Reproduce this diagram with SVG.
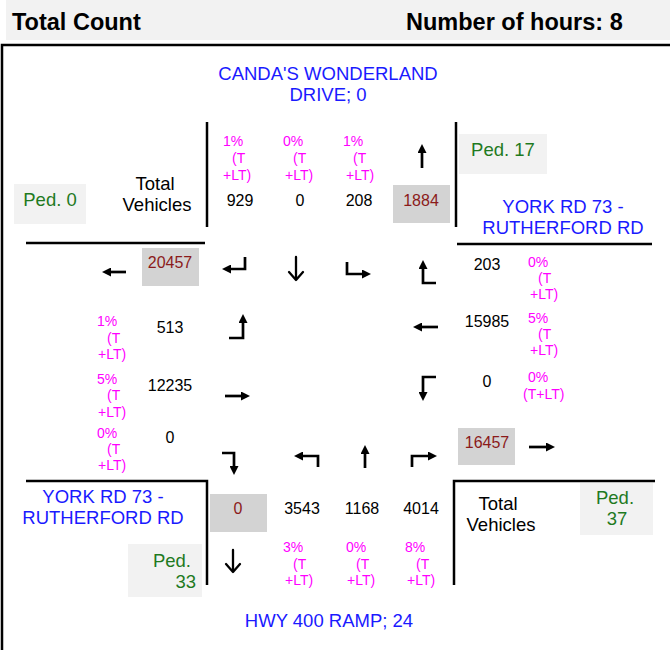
<svg xmlns="http://www.w3.org/2000/svg" width="670" height="650" viewBox="0 0 670 650">
<style>
text{font-family:"Liberation Sans",Arial,sans-serif}
.hdr{font-size:23.5px;font-weight:bold;fill:#000}
.road{font-size:18.5px;fill:#1a1aff;text-anchor:middle}
.lbl{font-size:18.5px;fill:#000;text-anchor:middle}
.ped{font-size:18.5px;fill:#1f7a1f;text-anchor:middle}
.num{font-size:16px;fill:#000;text-anchor:middle}
.tot{font-size:16px;fill:#8b1a1a;text-anchor:middle}
.pct{font-size:14px;fill:#ff00ff}
.pedbox{fill:#f2f2f2}
.totbox{fill:#d3d3d3}
.edge{stroke:#000;stroke-width:2.5;fill:none}
.arr{stroke:#000;stroke-width:2.7;fill:none;marker-end:url(#ah)}
.opn{stroke:#000;stroke-width:2.3;fill:none;stroke-linecap:round;stroke-linejoin:round}
</style>
<defs>
<marker id="ah" markerUnits="userSpaceOnUse" markerWidth="9" markerHeight="9" refX="0" refY="4.5" orient="auto" viewBox="0 0 9 9"><path d="M0,0 L9,4.5 L0,9 z" fill="#000"/></marker>
</defs>

<g id="header">
<rect x="6" y="0" width="664" height="40" fill="#f2f2f2"/>
<text class="hdr" x="12" y="30">Total Count</text>
<text class="hdr" x="406" y="30">Number of hours: 8</text>
</g>

<rect id="frame" x="2" y="45" width="680" height="620" fill="none" stroke="#000" stroke-width="2.5"/>

<g id="road-edges">
<path class="edge" d="M207,122 V227"/>
<path class="edge" d="M456,122 V227"/>
<path class="edge" d="M26,243 H205"/>
<path class="edge" d="M457,244 H652"/>
<path class="edge" d="M26,481 H207 V585"/>
<path class="edge" d="M655,481 H454 V585"/>
</g>

<g id="north-approach">
<text class="road" x="328" y="80">CANDA'S WONDERLAND</text>
<text class="road" x="328" y="101">DRIVE; 0</text>
<text class="lbl" x="155" y="190">Total</text>
<text class="lbl" x="157" y="211">Vehicles</text>
<text class="pct" x="223" y="146">1%</text><text class="pct" x="232" y="163">(T</text><text class="pct" x="223" y="180">+LT)</text>
<text class="pct" x="283" y="146">0%</text><text class="pct" x="293" y="163">(T</text><text class="pct" x="285" y="180">+LT)</text>
<text class="pct" x="343" y="146">1%</text><text class="pct" x="353" y="163">(T</text><text class="pct" x="346" y="180">+LT)</text>
<text class="num" x="240" y="206">929</text>
<text class="num" x="300" y="206">0</text>
<text class="num" x="359" y="206">208</text>
<rect class="totbox" x="393" y="185" width="57" height="38"/>
<text class="tot" x="421" y="206">1884</text>
</g>

<g id="ped-north-west">
<rect class="pedbox" x="14" y="184" width="72" height="40"/>
<text class="ped" x="50" y="206">Ped. 0</text>
</g>

<g id="ped-north-east">
<rect class="pedbox" x="459" y="134" width="88" height="40"/>
<text class="ped" x="503" y="156">Ped. 17</text>
</g>

<g id="east-approach">
<text class="road" x="563" y="213">YORK RD 73 -</text>
<text class="road" x="563" y="234">RUTHERFORD RD</text>
<text class="num" x="487" y="270">203</text>
<text class="pct" x="528" y="267">0%</text><text class="pct" x="538" y="283">(T</text><text class="pct" x="530" y="299">+LT)</text>
<text class="num" x="487" y="327">15985</text>
<text class="pct" x="528" y="323">5%</text><text class="pct" x="538" y="339">(T</text><text class="pct" x="530" y="355">+LT)</text>
<text class="num" x="487" y="387">0</text>
<text class="pct" x="528" y="382">0%</text><text class="pct" x="523" y="399">(T+LT)</text>
<rect class="totbox" x="458" y="428" width="57" height="37"/>
<text class="tot" x="487" y="448">16457</text>
</g>

<g id="west-approach">
<rect class="totbox" x="142" y="248" width="57" height="38"/>
<text class="tot" x="170" y="268">20457</text>
<text class="pct" x="97" y="326">1%</text><text class="pct" x="107" y="343">(T</text><text class="pct" x="98" y="359">+LT)</text>
<text class="num" x="170" y="333">513</text>
<text class="pct" x="97" y="384">5%</text><text class="pct" x="107" y="400">(T</text><text class="pct" x="98" y="417">+LT)</text>
<text class="num" x="170" y="391">12235</text>
<text class="pct" x="97" y="438">0%</text><text class="pct" x="107" y="454">(T</text><text class="pct" x="98" y="470">+LT)</text>
<text class="num" x="170" y="443">0</text>
<text class="road" x="103" y="503">YORK RD 73 -</text>
<text class="road" x="103" y="524">RUTHERFORD RD</text>
</g>

<g id="ped-south-west">
<rect class="pedbox" x="128" y="544" width="74" height="53"/>
<text class="ped" x="191" y="567" style="text-anchor:end">Ped.</text>
<text class="ped" x="196" y="588" style="text-anchor:end">33</text>
</g>

<g id="south-approach">
<rect class="totbox" x="210" y="494" width="57" height="38"/>
<text class="tot" x="238" y="514">0</text>
<text class="num" x="302" y="514">3543</text>
<text class="num" x="362" y="514">1168</text>
<text class="num" x="421" y="514">4014</text>
<text class="pct" x="283" y="552">3%</text><text class="pct" x="293" y="569">(T</text><text class="pct" x="285" y="585">+LT)</text>
<text class="pct" x="346" y="552">0%</text><text class="pct" x="356" y="569">(T</text><text class="pct" x="347" y="585">+LT)</text>
<text class="pct" x="405" y="552">8%</text><text class="pct" x="416" y="569">(T</text><text class="pct" x="407" y="585">+LT)</text>
<text class="road" x="329" y="627">HWY 400 RAMP; 24</text>
<text class="lbl" x="498" y="510">Total</text>
<text class="lbl" x="501" y="531">Vehicles</text>
</g>

<g id="ped-south-east">
<rect class="pedbox" x="580" y="483" width="73" height="52"/>
<text class="ped" x="615" y="504">Ped.</text>
<text class="ped" x="617" y="525">37</text>
</g>

<g id="connectors">
<path class="arr" d="M245,257 V269 H231"/>
<path class="opn" d="M296,257 V280 M289,272 L296,280 L303,272"/>
<path class="arr" d="M347,262 V274 H362"/>
<path class="arr" d="M436,283 H423 V269"/>
<path class="arr" d="M229,338 H243 V323"/>
<path class="arr" d="M438,327 H422"/>
<path class="arr" d="M225,396 H241"/>
<path class="arr" d="M436,377 H423 V392"/>
<path class="arr" d="M222,453 H234 V466"/>
<path class="arr" d="M318,467 V456 H303"/>
<path class="arr" d="M365,468 V454"/>
<path class="arr" d="M412,467 V456 H428"/>
<path class="arr" d="M422,168 V153"/>
<path class="arr" d="M126,272 H111"/>
<path class="arr" d="M529,447 H546"/>
<path class="opn" d="M233,550 V572 M226,564 L233,572 L240,564"/>
</g>
</svg>
